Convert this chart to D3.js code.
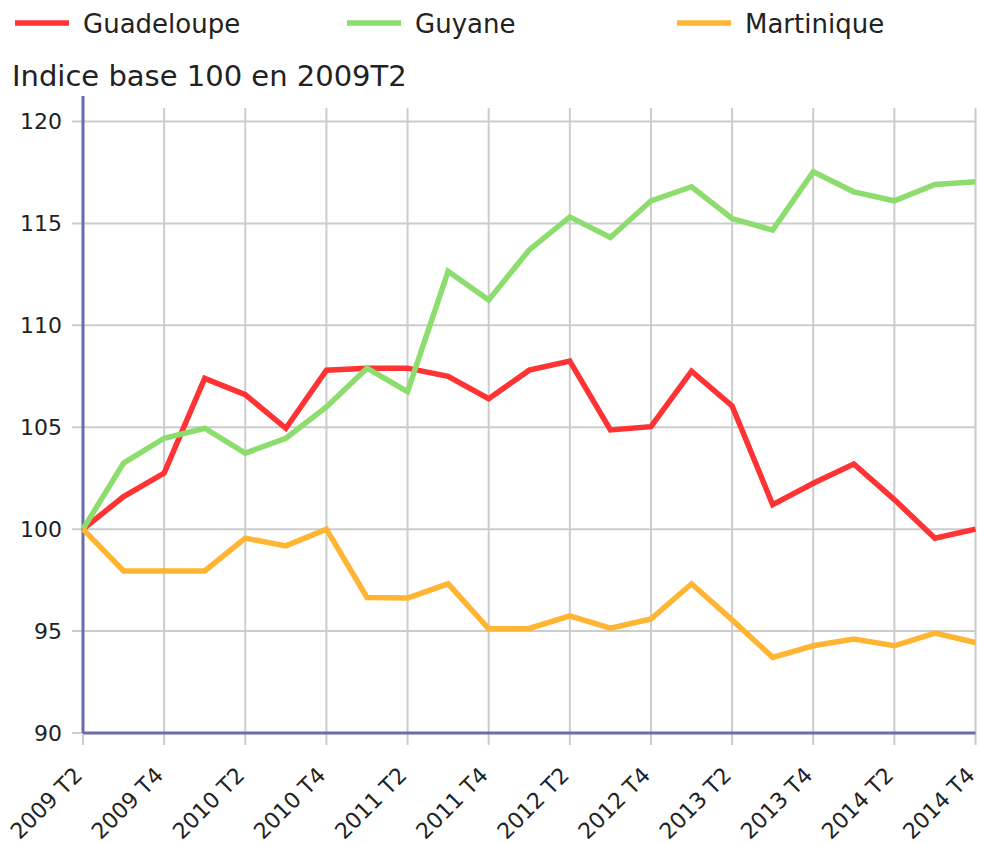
<!DOCTYPE html>
<html>
<head>
<meta charset="utf-8">
<script src="https://cdn.jsdelivr.net/npm/d3@7"></script>
<style>
  body { margin: 0; background: #fff; }
  svg text { font-family: "DejaVu Sans", sans-serif; fill: #222; }
</style>
</head>
<body>
<div id="chart"></div>
<script>
// quarters from 2009 T2 to 2014 T4
var quarters = ["2009 T2", "2009 T3", "2009 T4",
  "2010 T1", "2010 T2", "2010 T3", "2010 T4",
  "2011 T1", "2011 T2", "2011 T3", "2011 T4",
  "2012 T1", "2012 T2", "2012 T3", "2012 T4",
  "2013 T1", "2013 T2", "2013 T3", "2013 T4",
  "2014 T1", "2014 T2", "2014 T3", "2014 T4"]

var guadeloupe = [100, 101.6, 102.75, 107.4, 106.6, 104.95, 107.8, 107.9, 107.9, 107.5, 106.4,
  107.8, 108.25, 104.87, 105.03, 107.75, 106.05, 101.2, 102.25, 103.2, 101.45, 99.56, 100.0]
var guyane = [100, 103.24, 104.46, 104.95, 103.73, 104.46, 106.0, 107.9, 106.75, 112.65, 111.24,
  113.7, 115.32, 114.31, 116.11, 116.8, 115.24, 114.67, 117.53, 116.55, 116.11, 116.91, 117.04]
var martinique = [100, 97.95, 97.95, 97.95, 99.56, 99.18, 100.0, 96.65, 96.62, 97.32, 95.11,
  95.13, 95.75, 95.14, 95.59, 97.32, 95.55, 93.71, 94.28, 94.61, 94.28, 94.9, 94.44]

var seriesNames = ["Guadeloupe", "Guyane", "Martinique"]
var seriesColors = ["#ff3333", "#8ddc6e", "#ffb432"]
var yTicks = [90, 95, 100, 105, 110, 115, 120]
var xTickLabels = quarters.filter(function (d, i) { return i % 2 == 0 })

var margin = { top: 96, right: 5, bottom: 111, left: 83 }

var svg = d3.select("#chart")
  .append("svg")
  .attr("width", 981)
  .attr("height", 844)

var g = svg.append("g")
  .attr("transform", "translate(" + margin.left + "," + margin.top + ")")

var x = d3.scalePoint()
  .domain(quarters)
  .range([0, 892.5])

var y = d3.scaleLinear()
  .domain([90, 120])
  .range([637, 25.5])

// grid lines
g.append("g")
  .selectAll("line")
  .data(yTicks)
  .enter()
  .append("line")
  .attr("x1", -11)
  .attr("x2", x("2014 T4"))
  .attr("y1", function (d) { return y(d) })
  .attr("y2", function (d) { return y(d) })
  .style("stroke", "#cccccc")
  .style("stroke-width", 2)

g.append("g")
  .selectAll("line")
  .data(xTickLabels)
  .enter()
  .append("line")
  .attr("x1", function (d) { return x(d) })
  .attr("x2", function (d) { return x(d) })
  .attr("y1", 12)
  .attr("y2", 649)
  .style("stroke", "#cccccc")
  .style("stroke-width", 2)

// y labels
g.append("g")
  .selectAll("text")
  .data(yTicks)
  .enter()
  .append("text")
  .attr("x", -21)
  .attr("y", function (d) { return y(d) })
  .attr("dy", "0.36em")
  .attr("text-anchor", "end")
  .style("font-size", "22px")
  .text(function (d) { return d })

// x labels
g.append("g")
  .selectAll("text")
  .data(xTickLabels)
  .enter()
  .append("text")
  .attr("transform", function (d) { return "translate(" + (x(d) - 5) + "," + 675 + ") rotate(-45)" })
  .attr("dy", "0.36em")
  .attr("text-anchor", "end")
  .style("font-size", "22px")
  .text(function (d) { return d })

// axes lines
g.append("line")
  .attr("x1", 0).attr("x2", 0)
  .attr("y1", 0).attr("y2", y(90))
  .style("stroke", "#6b6bb0")
  .style("stroke-width", 3)

g.append("line")
  .attr("x1", 0).attr("x2", x("2014 T4"))
  .attr("y1", y(90)).attr("y2", y(90))
  .style("stroke", "#6b6bb0")
  .style("stroke-width", 3)

// lines
var allSeries = [guadeloupe, guyane, martinique]
var line = d3.line()
  .x(function (d, i) { return x(quarters[i]) })
  .y(function (d) { return y(d) })

allSeries.forEach(function (s, k) {
  g.append("path")
    .datum(s)
    .attr("d", line)
    .style("fill", "none")
    .style("stroke", seriesColors[k])
    .style("stroke-width", 5.5)
    .style("stroke-linejoin", "miter")
})

// legend
var legendX = [15, 347, 677]
var legend = svg.append("g")
seriesNames.forEach(function (name, k) {
  legend.append("line")
    .attr("x1", legendX[k]).attr("x2", legendX[k] + 54)
    .attr("y1", 23).attr("y2", 23)
    .style("stroke", seriesColors[k])
    .style("stroke-width", 5.5)
  legend.append("text")
    .attr("x", legendX[k] + 68)
    .attr("y", 33)
    .style("font-size", "26px")
    .text(name)
})

// title
svg.append("text")
  .attr("x", 12)
  .attr("y", 86)
  .style("font-size", "29px")
  .text("Indice base 100 en 2009T2")
</script>
</body>
</html>
